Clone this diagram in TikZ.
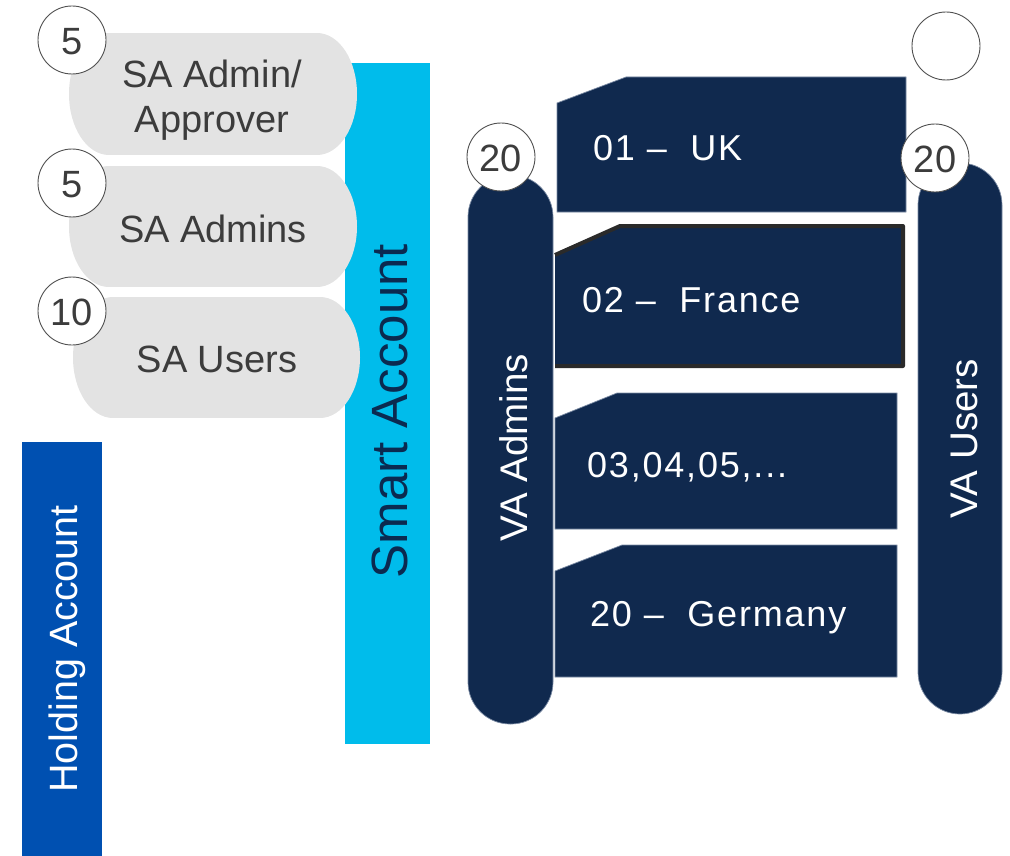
\documentclass[tikz,border=0pt]{standalone}
\usepackage{fontspec}
\setmainfont{Liberation Sans}
\definecolor{navy}{HTML}{10294E}
\definecolor{navyedge}{HTML}{7A8AA3}
\definecolor{sacyan}{HTML}{00BCEB}
\definecolor{holdblue}{HTML}{0050B1}
\definecolor{pillgray}{HTML}{E3E3E3}
\definecolor{txtgray}{HTML}{3C3C3C}
\definecolor{satext}{HTML}{0B2A50}
\definecolor{frborder}{HTML}{2A2A2A}
\tikzset{
  numc/.style={circle, draw=txtgray!90, line width=0.9pt, fill=white, minimum size=68pt, inner sep=0pt,
    text height=29pt, text depth=0pt,
    text=txtgray, font=\fontsize{38}{40}\selectfont},
  graytxt/.style={text=txtgray, inner sep=0pt, font=\fontsize{38}{45}\selectfont},
  blocktxt/.style={text=white, inner sep=0pt, anchor=base west, font=\fontsize{36}{40}\selectfont\addfontfeatures{LetterSpace=5}},
  vatxt/.style={text=white, inner sep=0pt, anchor=base, rotate=90, font=\fontsize{38.5}{40}\selectfont},
  navyshape/.style={fill=navy, draw=navyedge, line width=0.7pt},
}
\begin{document}
\begin{tikzpicture}[x=1pt,y=-1pt]
\useasboundingbox (0,0) rectangle (1010,856);
% Holding account
\fill[holdblue] (22,442) rectangle (102,860);
\node[rotate=90, anchor=base, text=white, inner sep=0pt, font=\fontsize{39.5}{40}\selectfont] (hold) at (77,649) {Holding Account};
% Smart account
\fill[sacyan] (345,63) rectangle (430,744);
\node[rotate=90, anchor=base, text=satext, inner sep=0pt, font=\fontsize{51}{52}\selectfont] (smart) at (407,411) {Smart Account};
% gray pills
\foreach \xa/\xb/\ya/\yb in {69/357/33/155, 69/357/166/287, 73/360/297/418}{
  \fill[pillgray] (\xa+40,\ya) rectangle (\xb-40,\yb);
  \fill[pillgray] (\xa+40,{(\ya+\yb)/2}) ellipse [x radius=40, y radius={(\yb-\ya)/2}];
  \fill[pillgray] (\xb-40,{(\ya+\yb)/2}) ellipse [x radius=40, y radius={(\yb-\ya)/2}];
}
\node[graytxt, align=center] (saapp) at (212,100) {SA Admin/\\Approver};
\node[graytxt, anchor=base] (saadm) at (213,242) {SA Admins};
\node[graytxt, anchor=base] (sausr) at (217,372) {SA Users};
\node[numc] (n5a) at (72,40) {5};
\node[numc] (n5b) at (72,183) {5};
\node[numc] (n10) at (72,311) {10};
% virtual account blocks
\path[navyshape] (557,103) -- (626,77) -- (906,77) -- (906,212) -- (557,212) -- cycle;
\path[fill=navy] (555,255) -- (620,226) -- (903,226) -- (903,366) -- (555,366) -- cycle;
\draw[frborder, line width=4pt, line join=round] (555,255) -- (620,226) -- (903,226) -- (903,366) -- (555,366);
\path[navyshape] (555,418) -- (617,393) -- (897,393) -- (897,529) -- (555,529) -- cycle;
\path[navyshape] (555,571) -- (622,545) -- (897,545) -- (897,677) -- (555,677) -- cycle;
\node[blocktxt] (uk) at (593,161) {01 – \ UK};
\node[blocktxt] (fr) at (582,312) {02 – \ France};
\node[blocktxt] (mid) at (587,477) {03,04,05,...};
\node[blocktxt] (de) at (590,626) {20 – \ Germany};
% VA pills
\path[navyshape, rounded corners=42pt] (468,175) rectangle (553,724);
\path[navyshape, rounded corners=42pt] (918,163) rectangle (1002,714);
\node[vatxt] (vaadm) at (527,448) {VA Admins};
\node[vatxt] (vausr) at (977,439) {VA Users};
\node[numc] (n20a) at (501,157) {20};
\node[numc] (n20b) at (935,158) {20};
\node[numc] (nempty) at (946,46) {};
\end{tikzpicture}
\end{document}
